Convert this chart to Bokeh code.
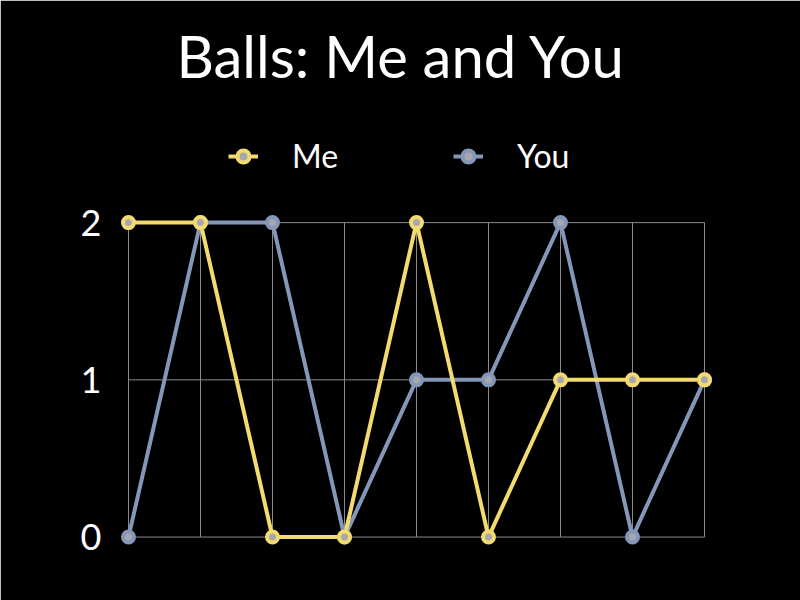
from bokeh.plotting import figure
from bokeh.models import Range1d, FixedTicker, Legend, LegendItem, Title, ColumnDataSource
from bokeh.embed import file_html
from bokeh.resources import INLINE

# ---- data ----
x_points = [0, 1, 2, 3, 4, 5, 6, 7, 8]
me_values = [2, 2, 0, 0, 2, 0, 1, 1, 1]
you_values = [0, 2, 2, 0, 1, 1, 2, 0, 1]
y_ticks = [0, 1, 2]
y_tick_labels = ["0", "1", "2"]
series_names = ["Me", "You"]
title_text = "Balls: Me and You"

# ---- styles ----
ME_COLOR = "#F3DB70"
YOU_COLOR = "#8597B8"
DOT_COLOR = "#A7A7B0"
GRID_COLOR = "#8A8A8A"
FONT = "Lato"

p = figure(width=800, height=600,
           x_range=Range1d(-0.25, 8.5), y_range=Range1d(-0.2, 2.713),
           output_backend="svg", toolbar_location=None,
           x_axis_type=None,
           min_border_left=110, min_border_right=60,
           min_border_top=110, min_border_bottom=32,
           background_fill_color="black", border_fill_color="black")
# a black outline hides the seam between frame and border fills
p.outline_line_color = "black"
p.outline_line_width = 4

p.title = Title(text=title_text, align="left", vertical_align="top",
                text_color="white",
                text_font=FONT, text_font_size="58px", text_font_style="normal",
                standoff=38, offset=66)

p.xgrid.visible = False
p.ygrid.visible = False

# grid lines spanning only the data extent
vx = dict(x0=x_points, y0=[min(y_ticks)] * len(x_points),
          x1=x_points, y1=[max(y_ticks)] * len(x_points))
p.segment(x0="x0", y0="y0", x1="x1", y1="y1", source=ColumnDataSource(vx),
          line_color=GRID_COLOR, line_width=1)
hy = dict(x0=[x_points[0]] * len(y_ticks), y0=y_ticks,
          x1=[x_points[-1]] * len(y_ticks), y1=y_ticks)
p.segment(x0="x0", y0="y0", x1="x1", y1="y1", source=ColumnDataSource(hy),
          line_color=GRID_COLOR, line_width=1)

you_src = ColumnDataSource(dict(x=x_points, y=you_values))
me_src = ColumnDataSource(dict(x=x_points, y=me_values))

you_line = p.line("x", "y", source=you_src, line_color=YOU_COLOR, line_width=4)
me_line = p.line("x", "y", source=me_src, line_color=ME_COLOR, line_width=4)
you_pts = p.scatter("x", "y", source=you_src, size=11, fill_color=DOT_COLOR,
                    line_color=YOU_COLOR, line_width=4)
me_pts = p.scatter("x", "y", source=me_src, size=11, fill_color=DOT_COLOR,
                   line_color=ME_COLOR, line_width=4)

# y axis
ax = p.yaxis[0]
ax.ticker = FixedTicker(ticks=y_ticks)
ax.major_label_overrides = {t: l for t, l in zip(y_ticks, y_tick_labels)}
ax.axis_line_color = None
ax.major_tick_line_color = None
ax.minor_tick_line_color = None
ax.major_tick_out = 0
ax.major_label_standoff = 9
ax.major_label_text_color = "white"
ax.major_label_text_font = FONT
ax.major_label_text_font_size = "36px"

legend = Legend(items=[LegendItem(label=series_names[0], renderers=[me_line, me_pts]),
                       LegendItem(label=series_names[1], renderers=[you_line, you_pts])],
                location=(118, 393), orientation="horizontal",
                glyph_width=30, glyph_height=36, label_height=36, label_width=100,
                label_standoff=34, spacing=61, padding=0, margin=0,
                background_fill_alpha=0, border_line_color=None,
                label_text_color="white", label_text_font=FONT,
                label_text_font_size="32px", label_text_baseline="middle")
p.add_layout(legend)

html = file_html(p, INLINE)
open("out.html", "w").write(html)
